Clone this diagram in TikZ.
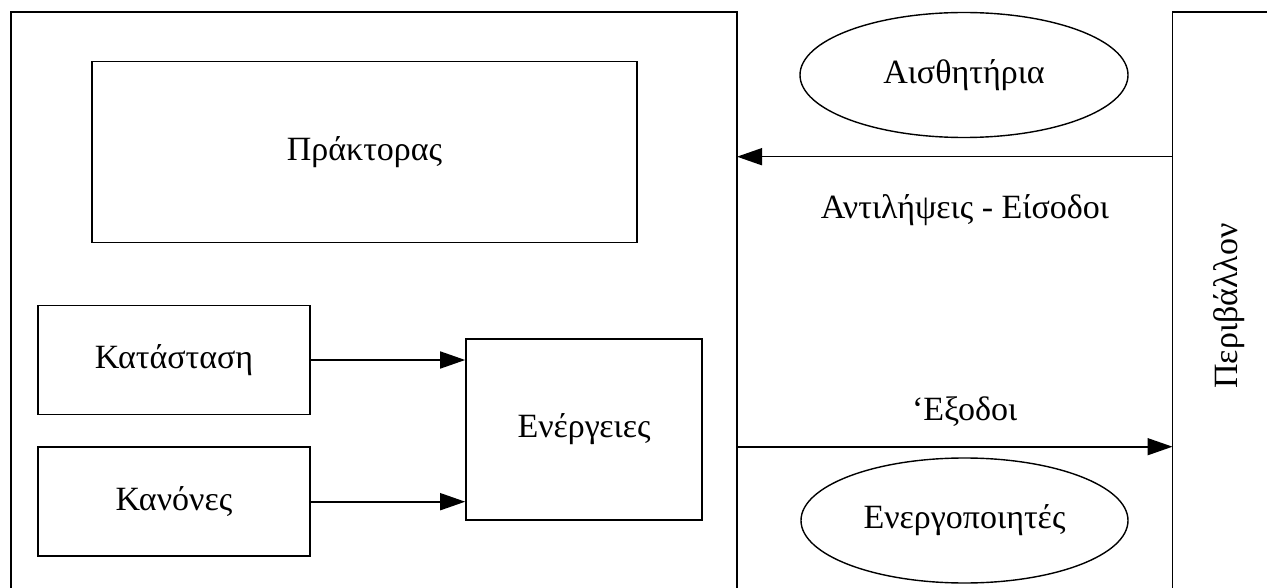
\documentclass[tikz,border=0pt]{standalone}
\usepackage{fontspec}
\setmainfont{Liberation Serif}
\usetikzlibrary{arrows.meta,shapes.geometric}
\begin{document}
\begin{tikzpicture}[x=1pt,y=-1pt,
  txt/.style={font=\fontsize{34}{40}\selectfont},
  frame/.style={line width=1.6pt},
  box/.style={draw,line width=1.6pt,inner sep=0pt,txt},
  oval/.style={draw,ellipse,line width=1.4pt,inner sep=0pt,txt},
  flow/.style={line width=1.6pt,-{Triangle[length=25pt,width=17pt]}}]
\useasboundingbox (0,0) rectangle (1267,588);

% agent and environment frames (open at the bottom)
\draw[frame] (737,588) -- (737,12.3) -- (10.7,12.3) -- (10.7,588);
\draw[frame] (1172.5,588) -- (1172.5,12.3) -- (1267,12.3);
\coordinate (agentTop) at (737,156.7);
\coordinate (envTop) at (1172.5,156.7);
\coordinate (agentBot) at (737,446.7);
\coordinate (envBot) at (1172.5,446.7);

% agent internals
\node[box,minimum width=545pt,minimum height=181pt] (prak) at (364.5,152.2) {Πράκτορας};
\node[box,minimum width=272pt,minimum height=109pt] (kat) at (174,360) {Κατάσταση};
\node[box,minimum width=272pt,minimum height=109pt] (kan) at (174,501.7) {Κανόνες};
\node[box,minimum width=236pt,minimum height=181pt] (ener) at (584,429.5) {Ενέργειες};

\draw[flow] (kat) -- (ener.west |- kat);
\draw[flow] (kan) -- (ener.west |- kan);

% sensors and actuators
\node[oval,minimum width=328pt,minimum height=125pt] (sens) at (964,75) {Αισθητήρια};
\node[oval,minimum width=327pt,minimum height=125pt] (act) at (964.5,520.5) {Ενεργοποιητές};

\draw[flow] (envTop) -- (agentTop);
\draw[flow] (agentBot) -- (envBot);

\node[txt] (inLbl) at (965,210) {Αντιλήψεις - Είσοδοι};
\node[txt] (outLbl) at (964.6,411.7) {‘Εξοδοι};
\node[txt,rotate=90] (env) at (1229,306) {Περιβάλλον};
\end{tikzpicture}
\end{document}
